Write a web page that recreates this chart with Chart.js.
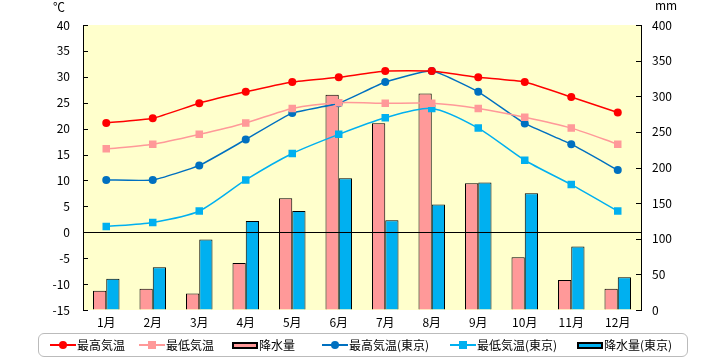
<!DOCTYPE html>
<html lang="ja">
<head>
<meta charset="utf-8">
<script src="https://cdn.jsdelivr.net/npm/chart.js@4.4.0/dist/chart.umd.min.js"></script>
<style>
  body { margin: 0; background: #fff; font-family: "Noto Sans CJK JP", sans-serif; }
  #wrap { position: relative; width: 720px; height: 360px; }
  #chart { position: absolute; left: 0; top: 0; }
  .unit { position: absolute; font-size: 12px; color: #000; }
  #legend { position: absolute; left: 38px; top: 333px; width: 648px; height: 22px;
            border: 1px solid #bbb; border-radius: 6px; background: #fff; }
  .item { position: absolute; top: 0; height: 22px; font-size: 12px; line-height: 22px; white-space: nowrap; }
  .icon { position: relative; display: inline-block; width: 27px; height: 22px; vertical-align: top; }
  .icon .ln { position: absolute; left: 0; top: 10px; width: 26px; height: 1.5px; }
  .icon .mk { position: absolute; left: 9px; top: 7px; width: 8px; height: 8px; }
  .icon .bx { position: absolute; left: 0; top: 8px; width: 22px; height: 3px; border: 2px solid #000; }
</style>
</head>
<body>
<div id="wrap">
  <canvas id="chart" width="720" height="360"></canvas>
  <div class="unit" style="left:53px; top:-2px;">℃</div>
  <div class="unit" style="left:655px; top:-4px;">mm</div>
  <div id="legend"></div>
</div>
<script>
// ===== DATA =====
const months = ["1月", "2月", "3月", "4月", "5月", "6月", "7月", "8月", "9月", "10月", "11月", "12月"];

const highTemp = [21.1, 22.0, 24.9, 27.1, 29.0, 29.9, 31.1, 31.1, 29.9, 29.0, 26.1, 23.1];
const lowTemp = [16.1, 17.0, 18.9, 21.1, 23.9, 25.0, 24.9, 24.9, 23.9, 22.2, 20.1, 17.0];
const rain = [27, 30, 23, 66, 157, 302, 262, 304, 178, 74, 42, 30];

const highTokyo = [10.1, 10.1, 12.9, 17.9, 23.0, 24.9, 29.0, 31.1, 27.1, 21.0, 17.0, 12.0];
const lowTokyo = [1.1, 1.9, 4.1, 10.1, 15.2, 18.9, 22.1, 23.9, 20.1, 13.9, 9.2, 4.1];
const rainTokyo = [44, 60, 99, 125, 139, 185, 126, 148, 179, 164, 89, 46];

const tempTicks = { min: -15, max: 40, step: 5 };
const rainTicks = { min: 0, max: 400, step: 50 };

// legend x positions inside the box
const legendX = [11, 100, 193, 283, 411, 538];

const FONT = { family: '"Noto Sans CJK JP", sans-serif', size: 12 };

// ===== PLUGINS =====
const plotBg = {
  id: "plotBg",
  beforeDraw(chart) {
    const { ctx, chartArea: a } = chart;
    ctx.save();
    ctx.fillStyle = "#ffffcc";
    ctx.fillRect(a.left, a.top, a.right - a.left, a.bottom - a.top);
    ctx.restore();
  }
};

// zero line over the bars + tick marks pointing inward
const axisMarks = {
  id: "axisMarks",
  afterDatasetsDraw(chart) {
    const { ctx, chartArea: a, scales } = chart;
    ctx.save();
    ctx.strokeStyle = "#000";
    ctx.lineWidth = 1;
    ctx.beginPath();
    const y0 = Math.round(scales.y.getPixelForValue(0)) + 0.5;
    ctx.moveTo(a.left, y0);
    ctx.lineTo(a.right, y0);
    scales.y.ticks.forEach(t => {
      const y = Math.round(scales.y.getPixelForValue(t.value)) + 0.5;
      ctx.moveTo(a.left, y);
      ctx.lineTo(a.left + 5, y);
    });
    scales.y1.ticks.forEach(t => {
      const y = Math.round(scales.y1.getPixelForValue(t.value)) + 0.5;
      ctx.moveTo(a.right - 5, y);
      ctx.lineTo(a.right, y);
    });
    ctx.stroke();
    ctx.restore();
  }
};

// ===== CHART =====
function lineSet(label, data, color, style, tension) {
  return {
    type: "line", label, data, yAxisID: "y", order: 1,
    borderColor: color, backgroundColor: color, borderWidth: 1.5,
    pointStyle: style, pointRadius: style === "rect" ? 5.3 : 4,
    pointBorderWidth: 0, tension
  };
}
function barSet(label, data, color) {
  return {
    type: "bar", label, data, yAxisID: "y1", order: 2,
    backgroundColor: color, borderColor: "#000", borderWidth: 1,
    categoryPercentage: 0.57, barPercentage: 1.0
  };
}

const datasets = [
  lineSet("最高気温", highTemp, "#ff0000", "circle", 0.15),
  lineSet("最低気温", lowTemp, "#ff9999", "rect", 0.25),
  barSet("降水量", rain, "#ff9999"),
  lineSet("最高気温(東京)", highTokyo, "#0070c0", "circle", 0.15),
  lineSet("最低気温(東京)", lowTokyo, "#00b0f0", "rect", 0.25),
  barSet("降水量(東京)", rainTokyo, "#00b0f0")
];

const hidden = "rgba(0,0,0,0)";

new Chart(document.getElementById("chart"), {
  data: { labels: months, datasets },
  plugins: [plotBg, axisMarks],
  options: {
    responsive: false,
    animation: false,
    layout: { padding: { top: 25, bottom: 30 } },
    plugins: { legend: { display: false }, tooltip: { enabled: false } },
    scales: {
      x: {
        offset: true,
        grid: { display: false },
        border: { display: false },
        ticks: { color: "#000", font: FONT, padding: -3, maxRotation: 0 },
        afterFit(s) { s.height = 20; }
      },
      y: {
        position: "left",
        min: tempTicks.min, max: tempTicks.max,
        grid: { color: hidden, drawTicks: false },
        border: { color: "#000", width: 1 },
        ticks: { stepSize: tempTicks.step, color: "#000", font: FONT, padding: 13 },
        afterFit(s) { s.width = 83; }
      },
      y1: {
        position: "right",
        min: rainTicks.min, max: rainTicks.max,
        grid: { color: hidden, drawTicks: false },
        border: { color: "#000", width: 1 },
        ticks: { stepSize: rainTicks.step, color: "#000", font: FONT, padding: 11 },
        afterFit(s) { s.width = 79; }
      }
    }
  }
});

// ===== LEGEND =====
const legend = document.getElementById("legend");
datasets.forEach((d, i) => {
  const item = document.createElement("div");
  item.className = "item";
  item.style.left = legendX[i] + "px";
  let icon;
  if (d.type === "bar") {
    icon = `<span class="icon"><span class="bx" style="background:${d.backgroundColor}"></span></span>`;
  } else {
    const round = d.pointStyle === "circle" ? "border-radius:50%;" : "";
    icon = `<span class="icon"><span class="ln" style="background:${d.borderColor}"></span>` +
           `<span class="mk" style="background:${d.borderColor};${round}"></span></span>`;
  }
  item.innerHTML = icon + d.label;
  legend.appendChild(item);
});
</script>
</body>
</html>
